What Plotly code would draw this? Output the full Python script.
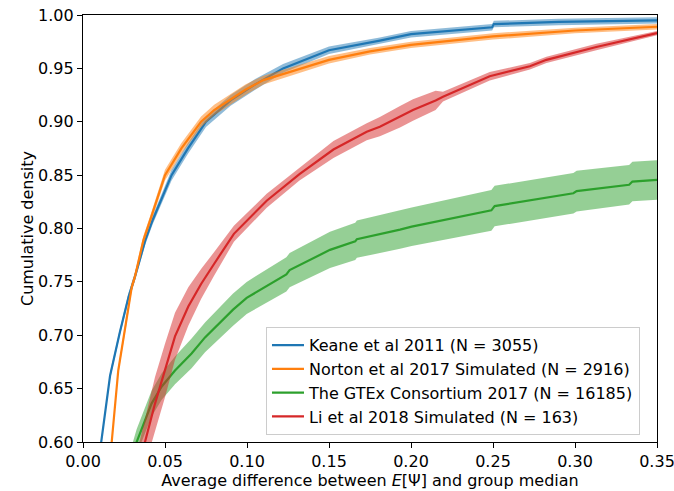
import plotly.graph_objects as go

# ---- data (x = average difference, y = cumulative density) ----
series_names = [
    "Keane et al 2011 (N = 3055)",
    "Norton et al 2017 Simulated (N = 2916)",
    "The GTEx Consortium 2017 (N = 16185)",
    "Li et al 2018 Simulated (N = 163)",
]
series_colors = ["#1f77b4", "#ff7f0e", "#2ca02c", "#d62728"]

keane_x = [0.0085, 0.011, 0.0165, 0.0225, 0.0278, 0.0317, 0.038, 0.0425, 0.054, 0.064, 0.075,
           0.090, 0.105, 0.122, 0.150, 0.181, 0.200, 0.2495, 0.2505, 0.290, 0.350]
keane_y = [0.570, 0.600, 0.662, 0.703, 0.736, 0.755, 0.789, 0.808, 0.850, 0.875, 0.900,
           0.920, 0.935, 0.950, 0.967, 0.976, 0.982, 0.9885, 0.9915, 0.9935, 0.995]
keane_err = [0.003, 0.003, 0.003, 0.003, 0.004, 0.004, 0.004, 0.004, 0.005, 0.005, 0.005,
             0.005, 0.005, 0.004, 0.0035, 0.003, 0.003, 0.003, 0.003, 0.003, 0.003]

norton_x = [0.0155, 0.0175, 0.0215, 0.0266, 0.0297, 0.0317, 0.0368, 0.041, 0.050, 0.060, 0.072,
            0.080, 0.099, 0.110, 0.150, 0.175, 0.200, 0.250, 0.300, 0.350]
norton_y = [0.570, 0.600, 0.667, 0.714, 0.745, 0.755, 0.789, 0.808, 0.850, 0.875, 0.900,
            0.911, 0.930, 0.939, 0.958, 0.966, 0.972, 0.980, 0.9855, 0.989]
norton_err = [0.003, 0.003, 0.003, 0.003, 0.004, 0.004, 0.004, 0.004, 0.005, 0.005, 0.005,
              0.005, 0.005, 0.004, 0.0035, 0.003, 0.003, 0.003, 0.0025, 0.0025]

gtex_x = [0.028, 0.0327, 0.0418, 0.048, 0.0561, 0.0662, 0.0744, 0.0915, 0.0998, 0.124, 0.126,
          0.1506, 0.166, 0.167, 0.1933, 0.2004, 0.249, 0.251, 0.299, 0.301, 0.333, 0.335, 0.350]
gtex_y = [0.575, 0.600, 0.636, 0.652, 0.667, 0.683, 0.698, 0.724, 0.735, 0.757, 0.761,
          0.780, 0.788, 0.790, 0.799, 0.8017, 0.817, 0.821, 0.833, 0.835, 0.841, 0.844, 0.8455]
gtex_err = [0.012, 0.012, 0.012, 0.0125, 0.013, 0.014, 0.014, 0.015, 0.015, 0.016, 0.016,
            0.017, 0.0175, 0.0175, 0.018, 0.018, 0.019, 0.019, 0.019, 0.019, 0.0185, 0.0185, 0.0185]

li_x = [0.034, 0.0378, 0.0439, 0.050, 0.0561, 0.0642, 0.072, 0.080, 0.092, 0.112, 0.132,
        0.1527, 0.173, 0.181, 0.1933, 0.2012, 0.215, 0.2195, 0.248, 0.2725, 0.2826, 0.313, 0.350]
li_y = [0.575, 0.600, 0.636, 0.667, 0.699, 0.727, 0.748, 0.767, 0.795, 0.826, 0.851,
        0.874, 0.8907, 0.8954, 0.9047, 0.911, 0.920, 0.9235, 0.9426, 0.952, 0.958, 0.970, 0.983]
li_err = [0.022, 0.022, 0.025, 0.025, 0.022, 0.018, 0.014, 0.011, 0.0075, 0.0065, 0.006,
          0.008, 0.008, 0.009, 0.010, 0.010, 0.009, 0.0045, 0.004, 0.003, 0.003, 0.003, 0.002]

x_ticks = [0.00, 0.05, 0.10, 0.15, 0.20, 0.25, 0.30, 0.35]
y_ticks = [0.60, 0.65, 0.70, 0.75, 0.80, 0.85, 0.90, 0.95, 1.00]

all_x = [keane_x, norton_x, gtex_x, li_x]
all_y = [keane_y, norton_y, gtex_y, li_y]
all_err = [keane_err, norton_err, gtex_err, li_err]


def rgba(hex_color, a):
    h = hex_color.lstrip("#")
    r, g, b = int(h[0:2], 16), int(h[2:4], 16), int(h[4:6], 16)
    return f"rgba({r},{g},{b},{a})"


fig = go.Figure()
for name, color, xs, ys, es in zip(series_names, series_colors, all_x, all_y, all_err):
    upper = [y + e for y, e in zip(ys, es)]
    lower = [y - e for y, e in zip(ys, es)]
    fig.add_trace(go.Scatter(
        x=xs + xs[::-1], y=upper + lower[::-1],
        fill="toself", fillcolor=rgba(color, 0.5),
        line=dict(width=0), mode="lines", hoverinfo="skip", showlegend=False,
    ))
    fig.add_trace(go.Scatter(
        x=xs, y=ys, mode="lines", name=name,
        line=dict(color=color, width=2.2),
    ))

font_family = "DejaVu Sans"
fs = 16
fig.update_layout(
    width=674, height=491,
    margin=dict(l=83, r=17, t=15, b=49),
    paper_bgcolor="white", plot_bgcolor="white",
    font=dict(family=font_family, size=fs, color="black"),
    showlegend=True,
    legend=dict(
        x=0.3188, y=0.016, xanchor="left", yanchor="bottom",
        bgcolor="rgba(255,255,255,0.8)", bordercolor="#cccccc", borderwidth=1,
        font=dict(family=font_family, size=fs, color="black"),
        tracegroupgap=0, itemwidth=32,
    ),
    xaxis=dict(
        range=[0, 0.35], tickvals=x_ticks, tickformat=".2f",
        showgrid=False, zeroline=False, automargin=False,
        showline=True, linecolor="black", linewidth=1.2, mirror=True,
        ticks="outside", ticklen=5, tickwidth=1.2, tickcolor="black",
        ticklabeloverflow="allow",
        title=dict(text="Average difference between <i>E</i>[Ψ] and group median",
                   font=dict(size=fs), standoff=2),
    ),
    yaxis=dict(
        range=[0.6, 1.0], tickvals=y_ticks, tickformat=".2f",
        showgrid=False, zeroline=False, automargin=False,
        showline=True, linecolor="black", linewidth=1.2, mirror=True,
        ticks="outside", ticklen=5, tickwidth=1.2, tickcolor="black",
        ticklabeloverflow="allow",
        title=dict(text="Cumulative density", font=dict(size=fs), standoff=0),
    ),
)

fig.write_html(
    "out.html",
    config={"displayModeBar": False},
    post_script="document.body.style.margin='0';document.body.style.padding='0';",
)
